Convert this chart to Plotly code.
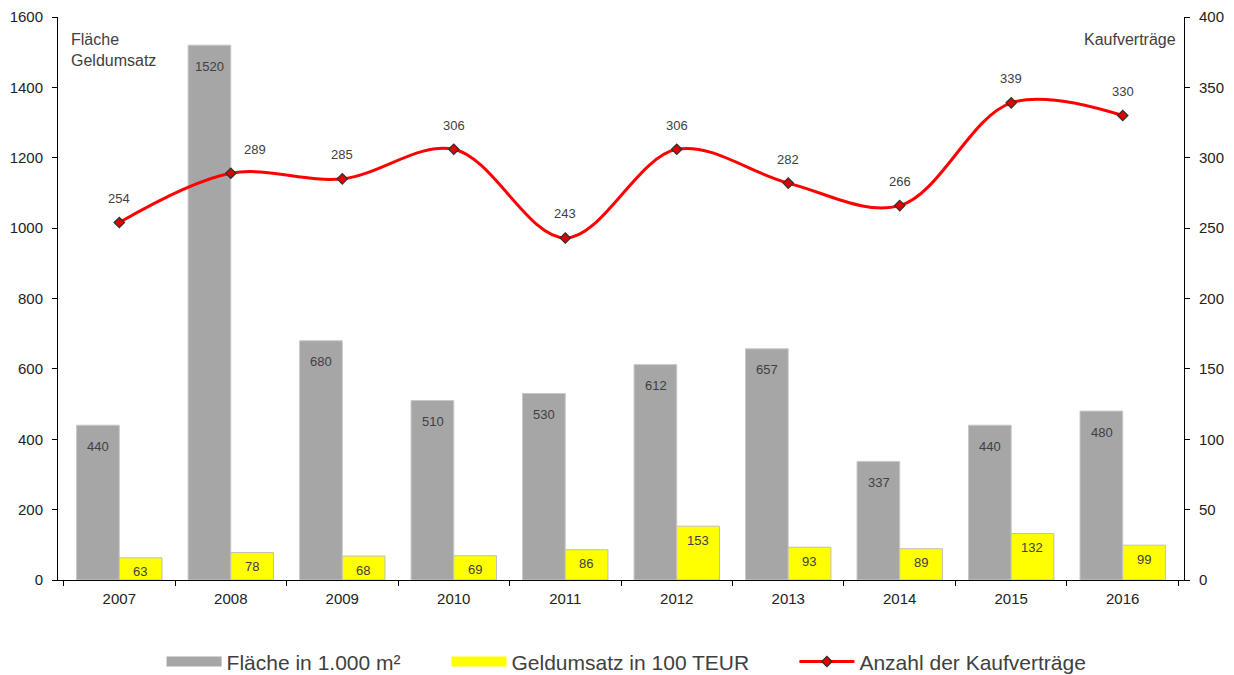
import plotly.graph_objects as go

years = ["2007", "2008", "2009", "2010", "2011", "2012", "2013", "2014", "2015", "2016"]
flaeche = [440, 1520, 680, 510, 530, 612, 657, 337, 440, 480]
geldumsatz = [63, 78, 68, 69, 86, 153, 93, 89, 132, 99]
kaufvertraege = [254, 289, 285, 306, 243, 306, 282, 266, 339, 330]

FONT = "Liberation Sans, Arial, sans-serif"
TXT = "#404040"
GRAY = "#a6a6a6"
YELLOW = "#ffff00"

fig = go.Figure()
fig.add_trace(go.Bar(
    x=years, y=flaeche, name="Fläche in 1.000 m²", showlegend=False,
    marker=dict(color=GRAY, line=dict(color="#c8c8c8", width=1)),
))
fig.add_trace(go.Bar(
    x=years, y=geldumsatz, name="Geldumsatz in 100 TEUR", showlegend=False,
    marker=dict(color=YELLOW, line=dict(color="#bfbfbf", width=1)),
))
fig.add_trace(go.Scatter(
    x=years, y=kaufvertraege, name="Anzahl der Kaufverträge", yaxis="y2",
    mode="lines+markers", showlegend=False,
    line=dict(color="#ff0000", width=3, shape="spline", smoothing=1.0),
    marker=dict(symbol="diamond", size=8, color="#e00000", line=dict(color="#303030", width=1.2)),
))
# legend-only entries (wide swatches like the reference), one legend each for exact placement
fig.add_trace(go.Scatter(x=[None], y=[None], mode="lines", name="Fläche in 1.000 m²",
                         line=dict(color=GRAY, width=11), legend="legend"))
fig.add_trace(go.Scatter(x=[None], y=[None], mode="lines", name="Geldumsatz in 100 TEUR",
                         line=dict(color=YELLOW, width=11), legend="legend2"))
fig.add_trace(go.Scatter(x=[None], y=[None], mode="lines+markers", name="Anzahl der Kaufverträge",
                         line=dict(color="#ff0000", width=3),
                         marker=dict(symbol="diamond", size=8, color="#e00000",
                                     line=dict(color="#303030", width=1.2)),
                         legend="legend3"))

annotations = []
off = 0.19
for i, (f, g) in enumerate(zip(flaeche, geldumsatz)):
    annotations.append(dict(x=i - off, y=f, xref="x", yref="y", text=str(f), showarrow=False,
                            yshift=-21, font=dict(size=13, color=TXT, family=FONT)))
    annotations.append(dict(x=i + off, y=g, xref="x", yref="y", text=str(g), showarrow=False,
                            yshift=-14, font=dict(size=13, color=TXT, family=FONT)))
for i, k in enumerate(kaufvertraege):
    annotations.append(dict(x=i, y=k, xref="x", yref="y2", text=str(k), showarrow=False,
                            yshift=24, xshift=24 if i == 1 else 0,
                            font=dict(size=13, color=TXT, family=FONT)))
annotations.append(dict(x=0, y=1, xref="paper", yref="paper", xanchor="left", yanchor="top",
                        xshift=11, yshift=-12, align="left", showarrow=False,
                        text="Fläche<br>Geldumsatz", font=dict(size=16, color=TXT, family=FONT)))
annotations.append(dict(x=1, y=1, xref="paper", yref="paper", xanchor="right", yanchor="top",
                        xshift=-6, yshift=-12, align="right", showarrow=False,
                        text="Kaufverträge", font=dict(size=16, color=TXT, family=FONT)))

axis_common = dict(showline=True, linecolor="black", linewidth=1, ticks="outside", ticklen=5,
                   tickcolor="black", showgrid=False, zeroline=False, automargin=False,
                   tickfont=dict(size=15, color="#222", family=FONT))


def leg(x):
    return dict(orientation="h", x=x, xanchor="left", y=-0.109, yanchor="top",
                font=dict(size=21, color=TXT, family=FONT), itemwidth=55,
                bgcolor="rgba(0,0,0,0)")


fig.update_layout(
    width=1234, height=675,
    margin=dict(l=58, r=50, t=17, b=95, autoexpand=False),
    paper_bgcolor="white", plot_bgcolor="white",
    font=dict(family=FONT, size=14, color="#222"),
    barmode="group", bargap=0.234, bargroupgap=0,
    showlegend=True,
    legend=leg(0.092), legend2=leg(0.345), legend3=leg(0.654),
    annotations=annotations,
    xaxis=dict(type="category", tickson="boundaries", ticklabelstandoff=5, **axis_common),
    yaxis=dict(range=[0, 1600], dtick=200, ticklabelstandoff=6, **axis_common),
    yaxis2=dict(range=[0, 400], dtick=50, overlaying="y", side="right", ticklabelstandoff=6,
                **axis_common),
)

# remove the browser's default 8px body margin so the figure sits at the page origin
fig.write_html("out.html", config={"displayModeBar": False},
               post_script="document.body.style.margin='0px';")
